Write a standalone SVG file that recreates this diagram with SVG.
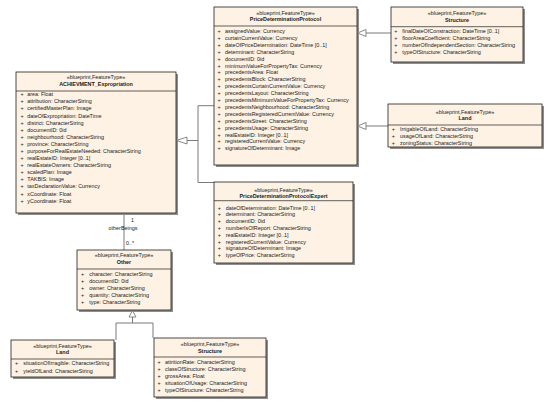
<svg xmlns="http://www.w3.org/2000/svg" width="550" height="405" viewBox="0 0 550 405">
<style>
.sh{fill:#8e8e8e}
.box{fill:#fdf2e3;stroke:#202020;stroke-width:0.8}
.dv{stroke:#202020;stroke-width:0.7}
text{font-family:"Liberation Sans",Arial,sans-serif;font-size:5.4px;fill:#1a1a1a}
.st{text-anchor:middle}
.nm{text-anchor:middle;font-weight:bold}
.cn{fill:none;stroke:#7a7a7a;stroke-width:1}
.tri{fill:#fff;stroke:#7a7a7a;stroke-width:0.9}
</style>
<rect width="550" height="405" fill="#fff"/>
<g id="connectors">
<path class="cn" d="M187,140.5 H198 M198,105.7 V182.5 M198,105.7 H214 M198,182.5 H214"/>
<polygon class="tri" points="176.5,140.5 187,137 187,144"/>
<path class="cn" d="M366,33 H391"/>
<polygon class="tri" points="357.5,33 366,29.5 366,36.5"/>
<path class="cn" d="M366,126 H388"/>
<polygon class="tri" points="357.5,126 366,122.5 366,129.5"/>
<path class="cn" d="M124,213 V250"/>
<text x="131" y="222">1</text>
<text class="st" x="123" y="229.7">otherBeings</text>
<text x="126" y="245.3">0..*</text>
<path class="cn" d="M132.5,317 V323 M116,323 H153 M116,323 V340 M153,323 V338"/>
<polygon class="tri" points="132.5,310.5 129,317 136,317"/>
</g>
<g id="achievment">
<rect class="sh" x="18" y="74" width="160" height="141"/>
<rect class="box" x="16" y="72" width="160" height="141"/>
<line class="dv" x1="16" y1="91" x2="176" y2="91"/>
<text class="st" x="96" y="78.6">«blueprint,FeatureType»</text>
<text class="nm" x="96" y="86.3">ACHIEVMENT_Expropriation</text>
<text x="20.5" y="96.3"><tspan x="20.5">+</tspan><tspan x="20.5" dy="7.09">+</tspan><tspan x="20.5" dy="7.09">+</tspan><tspan x="20.5" dy="7.09">+</tspan><tspan x="20.5" dy="7.09">+</tspan><tspan x="20.5" dy="7.09">+</tspan><tspan x="20.5" dy="7.09">+</tspan><tspan x="20.5" dy="7.09">+</tspan><tspan x="20.5" dy="7.09">+</tspan><tspan x="20.5" dy="7.09">+</tspan><tspan x="20.5" dy="7.09">+</tspan><tspan x="20.5" dy="7.09">+</tspan><tspan x="20.5" dy="7.09">+</tspan><tspan x="20.5" dy="7.09">+</tspan><tspan x="20.5" dy="7.09">+</tspan><tspan x="20.5" dy="7.09">+</tspan></text>
<text x="27.3" y="96.3"><tspan x="27.3">area: Float</tspan><tspan x="27.3" dy="7.09">attribution: CharacterString</tspan><tspan x="27.3" dy="7.09">certifiedMasterPlan: Image</tspan><tspan x="27.3" dy="7.09">dateOfExpropriation: DateTime</tspan><tspan x="27.3" dy="7.09">district: CharacterString</tspan><tspan x="27.3" dy="7.09">documentID: 0id</tspan><tspan x="27.3" dy="7.09">neighbourhood: CharacterString</tspan><tspan x="27.3" dy="7.09">province: CharacterString</tspan><tspan x="27.3" dy="7.09">purposeForRealEstateNeeded: CharacterString</tspan><tspan x="27.3" dy="7.09">realEstateID: Integer [0..1]</tspan><tspan x="27.3" dy="7.09">realEstateOwners: CharacterString</tspan><tspan x="27.3" dy="7.09">scaledPlan: Image</tspan><tspan x="27.3" dy="7.09">TAKBIS: Image</tspan><tspan x="27.3" dy="7.09">taxDeclarationValue: Currency</tspan><tspan x="27.3" dy="7.09">xCoordinate: Float</tspan><tspan x="27.3" dy="7.09">yCoordinate: Float</tspan></text>
</g>
<g id="pdp">
<rect class="sh" x="216" y="9" width="143" height="158"/>
<rect class="box" x="214" y="7" width="143" height="158"/>
<line class="dv" x1="214" y1="26" x2="357" y2="26"/>
<text class="st" x="285.5" y="15.3">«blueprint,FeatureType»</text>
<text class="nm" x="285.5" y="21.3">PriceDeterminationProtocol</text>
<text y="33"><tspan x="217.5">+</tspan><tspan x="217.5" dy="6.9">+</tspan><tspan x="217.5" dy="6.9">+</tspan><tspan x="217.5" dy="6.9">+</tspan><tspan x="217.5" dy="6.9">+</tspan><tspan x="217.5" dy="6.9">+</tspan><tspan x="217.5" dy="6.9">+</tspan><tspan x="217.5" dy="6.9">+</tspan><tspan x="217.5" dy="6.9">+</tspan><tspan x="217.5" dy="6.9">+</tspan><tspan x="217.5" dy="6.9">+</tspan><tspan x="217.5" dy="6.9">+</tspan><tspan x="217.5" dy="6.9">+</tspan><tspan x="217.5" dy="6.9">+</tspan><tspan x="217.5" dy="6.9">+</tspan><tspan x="217.5" dy="6.9">+</tspan><tspan x="217.5" dy="6.9">+</tspan><tspan x="217.5" dy="6.9">+</tspan></text>
<text y="33"><tspan x="225">assignedValue: Currency</tspan><tspan x="225" dy="6.9">curtainCurrentValue: Currency</tspan><tspan x="225" dy="6.9">dateOfPriceDetermination: DateTime [0..1]</tspan><tspan x="225" dy="6.9">determinant: CharacterString</tspan><tspan x="225" dy="6.9">documentID: 0id</tspan><tspan x="225" dy="6.9">minimumValueForPropertyTax: Currency</tspan><tspan x="225" dy="6.9">precedentsArea: Float</tspan><tspan x="225" dy="6.9">precedentsBlock: CharacterString</tspan><tspan x="225" dy="6.9">precedentsCurtainCurrentValue: Currency</tspan><tspan x="225" dy="6.9">precedentsLayout: CharacterString</tspan><tspan x="225" dy="6.9">precedentsMinimumValueForPropertyTax: Currency</tspan><tspan x="225" dy="6.9">precedentsNeighbourhood: CharacterString</tspan><tspan x="225" dy="6.9">precedentsRegisteredCurrentValue: Currency</tspan><tspan x="225" dy="6.9">precedentsStreet: CharacterString</tspan><tspan x="225" dy="6.9">precedentsUsage: CharacterString</tspan><tspan x="225" dy="6.9">realEstateID: Integer [0..1]</tspan><tspan x="225" dy="6.9">registeredCurrentValue: Currency</tspan><tspan x="225" dy="6.9">signatureOfDeterminant: Image</tspan></text>
</g>
<g id="structure-top">
<rect class="sh" x="393" y="9" width="132" height="55"/>
<rect class="box" x="391" y="7" width="132" height="55"/>
<line class="dv" x1="391" y1="26.7" x2="523" y2="26.7"/>
<text class="st" x="457" y="15.3">«blueprint,FeatureType»</text>
<text class="nm" x="457" y="22">Structure</text>
<text y="33"><tspan x="394.3">+</tspan><tspan x="394.3" dy="7.1">+</tspan><tspan x="394.3" dy="7.1">+</tspan><tspan x="394.3" dy="7.1">+</tspan></text>
<text y="33"><tspan x="402.3">finalDateOfConstraction: DateTime [0..1]</tspan><tspan x="402.3" dy="7.1">floorAreaCoefficient: CharacterString</tspan><tspan x="402.3" dy="7.1">numberOfIndependentSection: CharacterString</tspan><tspan x="402.3" dy="7.1">typeOfStructure: CharacterString</tspan></text>
</g>
<g id="land-right">
<rect class="sh" x="390" y="106" width="154" height="43"/>
<rect class="box" x="388" y="104" width="154" height="43"/>
<line class="dv" x1="388" y1="125" x2="542" y2="125"/>
<text class="st" x="465" y="113.7">«blueprint,FeatureType»</text>
<text class="nm" x="465" y="119.7">Land</text>
<text y="131"><tspan x="391.7">+</tspan><tspan x="391.7" dy="7">+</tspan><tspan x="391.7" dy="7">+</tspan></text>
<text y="131"><tspan x="400">IrrigableOfLand: CharacterString</tspan><tspan x="400" dy="7">usageOfLand: CharacterString</tspan><tspan x="400" dy="7">zoningStatus: CharacterString</tspan></text>
</g>
<g id="pdp-expert">
<rect class="sh" x="216" y="184" width="139" height="81"/>
<rect class="box" x="214" y="182" width="139" height="81"/>
<line class="dv" x1="214" y1="200.7" x2="353" y2="200.7"/>
<text class="st" x="283.5" y="192">«blueprint,FeatureType»</text>
<text class="nm" x="283.5" y="197.7">PriceDeterminationProtocolExpert</text>
<text y="209.7"><tspan x="217.7">+</tspan><tspan x="217.7" dy="6.76">+</tspan><tspan x="217.7" dy="6.76">+</tspan><tspan x="217.7" dy="6.76">+</tspan><tspan x="217.7" dy="6.76">+</tspan><tspan x="217.7" dy="6.76">+</tspan><tspan x="217.7" dy="6.76">+</tspan><tspan x="217.7" dy="6.76">+</tspan></text>
<text y="209.7"><tspan x="225.7">dateOfDetermination: DateTime [0..1]</tspan><tspan x="225.7" dy="6.76">determinant: CharacterString</tspan><tspan x="225.7" dy="6.76">documentID: 0id</tspan><tspan x="225.7" dy="6.76">numberIsOfReport: CharacterString</tspan><tspan x="225.7" dy="6.76">realEstateID: Integer [0..1]</tspan><tspan x="225.7" dy="6.76">registeredCurrentValue: Currency</tspan><tspan x="225.7" dy="6.76">signatureOfDeterminant: Image</tspan><tspan x="225.7" dy="6.76">typeOfPrice: CharacterString</tspan></text>
</g>
<g id="other">
<rect class="sh" x="79" y="252" width="94" height="60"/>
<rect class="box" x="77" y="250" width="94" height="60"/>
<line class="dv" x1="77" y1="269" x2="171" y2="269"/>
<text class="st" x="124" y="257">«blueprint,FeatureType»</text>
<text class="nm" x="124" y="263.7">Other</text>
<text y="276"><tspan x="81">+</tspan><tspan x="81" dy="6.9">+</tspan><tspan x="81" dy="6.9">+</tspan><tspan x="81" dy="6.9">+</tspan><tspan x="81" dy="6.9">+</tspan></text>
<text y="276"><tspan x="89.3">character: CharacterString</tspan><tspan x="89.3" dy="6.9">documentID: 0id</tspan><tspan x="89.3" dy="6.9">owner: CharacterString</tspan><tspan x="89.3" dy="6.9">quantity: CharacterString</tspan><tspan x="89.3" dy="6.9">type: CharacterString</tspan></text>
</g>
<g id="land-bottom">
<rect class="sh" x="13" y="342" width="103" height="37"/>
<rect class="box" x="11" y="340" width="103" height="37"/>
<line class="dv" x1="11" y1="359" x2="114" y2="359"/>
<text class="st" x="62.5" y="348">«blueprint,FeatureType»</text>
<text class="nm" x="62.5" y="354.3">Land</text>
<text y="365.3"><tspan x="15">+</tspan><tspan x="15" dy="7.7">+</tspan></text>
<text y="365.3"><tspan x="23.3">situationOfIrragible: CharacterString</tspan><tspan x="23.3" dy="7.7">yieldOfLand: CharacterString</tspan></text>
</g>
<g id="structure-bottom">
<rect class="sh" x="156" y="340" width="112" height="59"/>
<rect class="box" x="154" y="338" width="112" height="59"/>
<line class="dv" x1="154" y1="357" x2="266" y2="357"/>
<text class="st" x="210" y="346">«blueprint,FeatureType»</text>
<text class="nm" x="210" y="352.7">Structure</text>
<text y="364.3"><tspan x="157.5">+</tspan><tspan x="157.5" dy="6.85">+</tspan><tspan x="157.5" dy="6.85">+</tspan><tspan x="157.5" dy="6.85">+</tspan><tspan x="157.5" dy="6.85">+</tspan></text>
<text y="364.3"><tspan x="165">attritionRate: CharacterString</tspan><tspan x="165" dy="6.85">classOfStructure: CharacterString</tspan><tspan x="165" dy="6.85">grossArea: Float</tspan><tspan x="165" dy="6.85">situationOfUsage: CharacterString</tspan><tspan x="165" dy="6.85">typeOfStructure: CharacterString</tspan></text>
</g>
</svg>
